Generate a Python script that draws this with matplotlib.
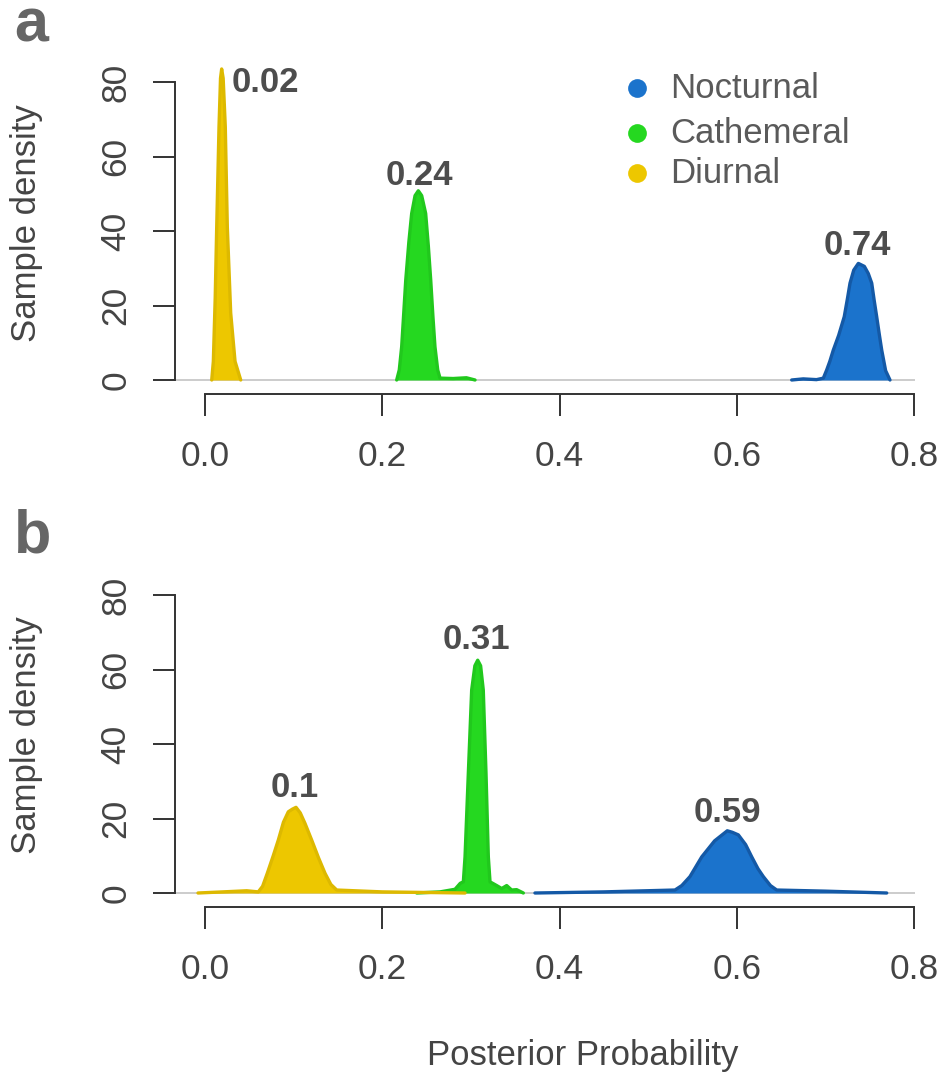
import matplotlib
matplotlib.use('Agg')
import matplotlib.pyplot as plt

plt.rcParams['font.family'] = ['Liberation Sans', 'DejaVu Sans']

# ---------------- data ----------------
series_names = ['Nocturnal', 'Cathemeral', 'Diurnal']

# panel a
a_noct_x = [0.662, 0.675, 0.690, 0.6977, 0.7015, 0.7050, 0.7089, 0.7150, 0.7213, 0.7250, 0.7278, 0.7320, 0.7372, 0.7440, 0.7484, 0.7523, 0.7550, 0.7579, 0.7610, 0.7636, 0.7680, 0.7729]
a_noct_y = [0.0, 0.3, 0.1, 0.5, 2.7, 5.0, 8.0, 12.0, 17.0, 22.0, 26.0, 29.5, 31.3, 30.5, 28.6, 26.0, 21.5, 17.0, 12.0, 8.0, 2.5, 0.0]
a_cath_x = [0.2163, 0.2192, 0.2219, 0.2240, 0.2265, 0.2300, 0.2332, 0.2370, 0.2407, 0.2445, 0.2490, 0.2520, 0.2547, 0.2572, 0.2595, 0.2626, 0.2652, 0.2800, 0.2950, 0.3047]
a_cath_y = [0.0, 2.7, 8.9, 17.0, 26.8, 37.0, 44.7, 49.5, 50.8, 49.5, 44.7, 36.0, 26.8, 17.0, 8.9, 2.7, 0.5, 0.4, 0.6, 0.0]
a_diur_x = [0.0076, 0.0094, 0.0115, 0.0132, 0.0158, 0.0175, 0.0188, 0.0205, 0.0229, 0.0252, 0.0290, 0.0339, 0.0403]
a_diur_y = [0.0, 5.0, 22.0, 41.0, 68.0, 81.0, 83.5, 81.0, 68.0, 41.0, 18.0, 5.0, 0.0]
a_labels = ['0.74', '0.24', '0.02']

# panel b
b_noct_x = [0.3723, 0.45, 0.5303, 0.5380, 0.5472, 0.5605, 0.5750, 0.5893, 0.5950, 0.6018, 0.6100, 0.6169, 0.6240, 0.6300, 0.6380, 0.6451, 0.70, 0.7692]
b_noct_y = [0.0, 0.3, 0.8, 2.0, 4.4, 9.7, 14.0, 16.7, 16.3, 15.6, 13.0, 9.7, 6.5, 4.4, 2.0, 0.8, 0.5, 0.0]
b_cath_x = [0.2389, 0.2652, 0.2821, 0.2880, 0.2915, 0.2934, 0.2971, 0.3009, 0.3045, 0.3077, 0.3110, 0.3140, 0.3171, 0.3197, 0.3216, 0.3291, 0.3348, 0.3404, 0.3460, 0.3516, 0.3592]
b_cath_y = [0.0, 0.3, 1.0, 2.6, 3.0, 9.7, 32.0, 54.5, 61.0, 62.5, 61.0, 54.5, 32.0, 9.7, 3.0, 2.0, 1.2, 2.0, 0.8, 0.9, 0.0]
b_diur_x = [-0.0079, 0.02, 0.047, 0.0601, 0.0650, 0.0703, 0.0770, 0.0827, 0.0885, 0.0940, 0.0985, 0.1027, 0.1075, 0.1128, 0.1204, 0.1280, 0.1354, 0.1420, 0.1486, 0.20, 0.2934]
b_diur_y = [0.0, 0.3, 0.6, 0.3, 1.8, 5.3, 10.0, 14.2, 19.0, 21.8, 22.5, 23.0, 21.5, 18.7, 14.2, 9.5, 5.3, 2.3, 0.8, 0.3, 0.0]
b_labels = ['0.59', '0.31', '0.1']

x_ticks = [0.0, 0.2, 0.4, 0.6, 0.8]
x_ticklabels = ['0.0', '0.2', '0.4', '0.6', '0.8']
y_ticks = [0, 20, 40, 60, 80]
y_ticklabels = ['0', '20', '40', '60', '80']

# ---------------- styles ----------------
fills = ['#1B73CC', '#25D820', '#EDC700']
edges = ['#1459A6', '#21C81D', '#DDB900']
txt_dark = '#444444'
val_col = '#4d4d4d'

W, H = 942, 1077
fig = plt.figure(figsize=(W / 100, H / 100), dpi=100)


def ax_rect(left, right, top, bottom):
    return [left / W, 1 - bottom / H, (right - left) / W, (bottom - top) / H]


axA = fig.add_axes(ax_rect(175, 915, 40, 394))
axB = fig.add_axes(ax_rect(175, 915, 555, 907))

xlim = (-30 / 886.25, 710 / 886.25)


def style_axis(ax, ylim):
    ax.set_xlim(*xlim)
    ax.set_ylim(*ylim)
    for s in ['top', 'right']:
        ax.spines[s].set_visible(False)
    ax.spines['left'].set_bounds(0, 80)
    ax.spines['bottom'].set_bounds(0, 0.8)
    for s in ['left', 'bottom']:
        ax.spines[s].set_color('#333333')
        ax.spines[s].set_linewidth(1.4)
    ax.set_xticks(x_ticks)
    ax.set_xticklabels(x_ticklabels)
    ax.set_yticks(y_ticks)
    ax.set_yticklabels(y_ticklabels)
    ax.tick_params(axis='both', direction='out', length=15.8, width=1.4,
                   color='#333333', labelsize=25.5, labelcolor=txt_dark)
    ax.tick_params(axis='x', pad=17)
    ax.tick_params(axis='y', pad=15, labelrotation=90)
    for lab in ax.get_yticklabels():
        lab.set_va('center')
    ax.axhline(0, color='#c4c4c4', lw=1.2, zorder=1)
    ax.patch.set_visible(False)


def draw_curve(ax, x, y, i):
    ax.fill_between(x, y, 0, color=fills[i], lw=0, zorder=2)
    ax.plot(x, y, color=edges[i], lw=2.4, solid_joinstyle='round',
            solid_capstyle='round', zorder=3)


style_axis(axA, (-14 / 3.725, 340 / 3.725))
style_axis(axB, (-14 / 3.725, 338 / 3.725))

# panel a curves
draw_curve(axA, a_noct_x, a_noct_y, 0)
draw_curve(axA, a_cath_x, a_cath_y, 1)
draw_curve(axA, a_diur_x, a_diur_y, 2)
# panel b curves
draw_curve(axB, b_noct_x, b_noct_y, 0)
draw_curve(axB, b_cath_x, b_cath_y, 1)
draw_curve(axB, b_diur_x, b_diur_y, 2)

# value labels
vkw = dict(fontsize=25, fontweight='bold', color=val_col, va='baseline', zorder=5)
axA.text(0.7362, 33.6, a_labels[0], ha='center', **vkw)
axA.text(0.2423, 52.3, a_labels[1], ha='center', **vkw)
axA.text(0.0305, 77.3, a_labels[2], ha='left', **vkw)
axB.text(0.5896, 19.1, b_labels[0], ha='center', **vkw)
axB.text(0.3058, 65.5, b_labels[1], ha='center', **vkw)
axB.text(0.1016, 25.85, b_labels[2], ha='center', **vkw)

# legend (manual, R style)
leg_y = [78.3, 66.2, 55.5]
for i, name in enumerate(series_names):
    axA.plot([0.4871], [leg_y[i]], 'o', ms=13.5, color=fills[i], mec='none',
             clip_on=False, zorder=5)
    axA.text(0.5247, leg_y[i], name, fontsize=25, color='#5a5a5a',
             ha='left', va='center', zorder=5)

# axis titles and panel letters
fig.text(27 / W, 1 - 223 / H, 'Sample density', rotation=90, fontsize=25,
         color=txt_dark, ha='center', va='center')
fig.text(27 / W, 1 - 735 / H, 'Sample density', rotation=90, fontsize=25,
         color=txt_dark, ha='center', va='center')
fig.text(583 / W, 1 - 1056 / H, 'Posterior Probability', fontsize=25,
         color=txt_dark, ha='center', va='center')
fig.text(14 / W, 1 - 42 / H, 'a', fontsize=44, fontweight='bold',
         color='#666666', ha='left', va='baseline')
fig.text(14 / W, 1 - 553 / H, 'b', fontsize=44, fontweight='bold',
         color='#666666', ha='left', va='baseline')

fig.savefig('out.png', dpi=100)
